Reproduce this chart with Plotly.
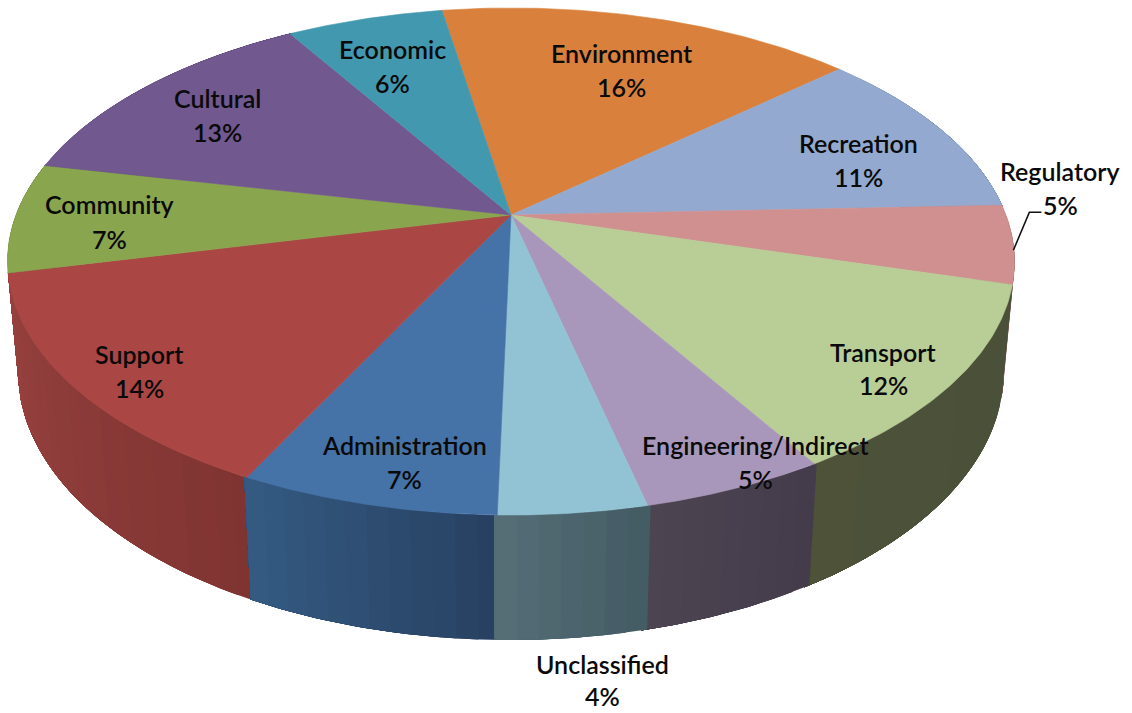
import numpy as np
import plotly.graph_objects as go

# Budget share by category, clockwise from the Environment slice
categories = ["Environment", "Recreation", "Regulatory", "Transport", "Engineering/Indirect",
              "Unclassified", "Administration", "Support", "Community", "Cultural", "Economic"]
shares = [16, 11, 5, 12, 5, 4, 7, 14, 7, 13, 6]

top_colors = ["#D9813C", "#93A9CF", "#D09090", "#B9CD96", "#A997BB",
              "#92C3D4", "#4572A7", "#AA4643", "#89A54E", "#71588F", "#4198AF"]
# Side wall shading, from the clockwise-first edge to the clockwise-last edge
wall_start = ["#8A5A30", "#6C7C98", "#8E6362", "#4A5039", "#433C4A",
              "#435A63", "#274060", "#7F3432", "#6A803C", "#553F6E", "#30707F"]
wall_end = ["#8A5A30", "#6C7C98", "#7D5A58", "#4D5239", "#4E4452",
            "#566F78", "#355B84", "#98423F", "#6A803C", "#553F6E", "#30707F"]

# Label centres in page pixels: x, y of the name line, y of the percent line
label_places = [(621, 53, 87), (858, 143, 177), (1060, 171, 205), (883, 352, 385), (755, 445, 479),
                (602, 664, 696), (404, 445, 479), (139, 354, 388), (109, 204, 239), (217, 98, 132),
                (392, 49, 83)]

START_DEG = -9.5
CX, CY = 511.0, 215.0
RX, RY, DROP = 495.0, 245.0, 111.0
TILT, DEPTH = -0.1834, 0.021


def project(deg, height=0.0):
    """Perspective view of a point on the disc rim (or its centre when deg is None)."""
    if deg is None:
        u, v = 0.0, 0.0
    else:
        a = np.radians(deg)
        u, v = np.sin(a), -np.cos(a)
    w = 1 + TILT * v + DEPTH * height
    return CX + RX * u / w, CY + (RY * v + DROP * height) / w


def mix(c1, c2, t):
    a = [int(c1[i:i + 2], 16) for i in (1, 3, 5)]
    b = [int(c2[i:i + 2], 16) for i in (1, 3, 5)]
    return "#%02X%02X%02X" % tuple(round(p + (q - p) * t) for p, q in zip(a, b))


edges = START_DEG + np.cumsum([0] + shares) * 3.6
fig = go.Figure()

# Side walls, furthest slices first. Within a slice each band runs on to the
# slice's far edge and the next band paints over it, which leaves no seams.
wall_order = [i for i in range(len(shares)) if edges[i + 1] > 60 and edges[i] < 300]
wall_order.sort(key=lambda i: -np.cos(np.radians(0.5 * (edges[i] + edges[i + 1]))))
for i in wall_order:
    lo, hi = edges[i] - 0.3, edges[i + 1] + 0.3
    n = max(2, int((hi - lo) / 2.0))
    cuts = np.linspace(lo, hi, n + 1)
    for j in range(n):
        col = mix(wall_start[i], wall_end[i], (j + 0.5) / n)
        arc = np.linspace(cuts[j], hi, 40)
        p = [project(a) for a in arc] + [project(a, 1) for a in arc[::-1]]
        p.append(p[0])
        fig.add_trace(go.Scatter(x=[q[0] for q in p], y=[q[1] for q in p], mode="lines", fill="toself",
                                 fillcolor=col, line=dict(width=0), hoverinfo="skip"))

# Top faces of the slices
for i, name in enumerate(categories):
    arc = np.linspace(edges[i], edges[i + 1], 60)
    pts = [project(None)] + [project(a) for a in arc] + [project(None)]
    fig.add_trace(go.Scatter(x=[q[0] for q in pts], y=[q[1] for q in pts], mode="lines", fill="toself",
                             fillcolor=top_colors[i], line=dict(color=top_colors[i], width=0.6),
                             name=name, hoverinfo="name"))

# Leader line for the label sitting outside the disc
reg = categories.index("Regulatory")
lx, ly = project(0.5 * (edges[reg] + edges[reg + 1]))
fig.add_trace(go.Scatter(x=[lx, lx + 16, lx + 28], y=[ly + 6, ly - 32, ly - 32], mode="lines",
                         line=dict(color="#111111", width=1.6), hoverinfo="skip"))

annotations = []
for name, share, (x, y1, y2) in zip(categories, shares, label_places):
    for text, y in ((name, y1), (f"{share}%", y2)):
        annotations.append(dict(x=x, y=y, text=text, showarrow=False, xanchor="center", yanchor="middle",
                                font=dict(family="Lato", size=25, color="#0A0A0A", weight=600)))

fig.update_layout(
    width=1132, height=713, margin=dict(l=0, r=0, t=0, b=0),
    paper_bgcolor="white", plot_bgcolor="white", showlegend=False,
    xaxis=dict(range=[0, 1132], visible=False, fixedrange=True),
    yaxis=dict(range=[713, 0], visible=False, fixedrange=True),
    annotations=annotations,
)
fig.write_html("out.html")
